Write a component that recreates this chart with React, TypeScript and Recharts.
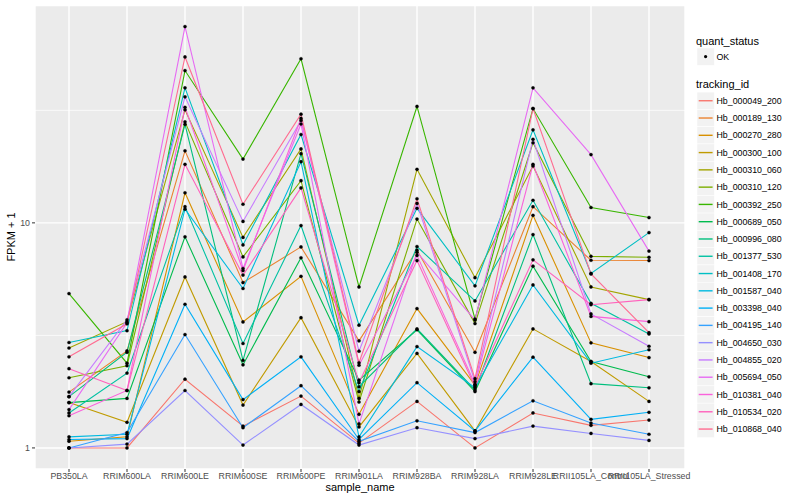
import React from 'react';
import { LineChart, Line, XAxis, YAxis, CartesianGrid } from 'recharts';

const FONT = '"Liberation Sans", Arial, Helvetica, sans-serif';

const categories = [
  'PB350LA', 'RRIM600LA', 'RRIM600LE', 'RRIM600SE', 'RRIM600PE', 'RRIM901LA',
  'RRIM928BA', 'RRIM928LA', 'RRIM928LE', 'RRII105LA_Control', 'RRII105LA_Stressed',
];

const trackingIds = [
  'Hb_000049_200', 'Hb_000189_130', 'Hb_000270_280', 'Hb_000300_100', 'Hb_000310_060',
  'Hb_000310_120', 'Hb_000392_250', 'Hb_000689_050', 'Hb_000996_080', 'Hb_001377_530',
  'Hb_001408_170', 'Hb_001587_040', 'Hb_003398_040', 'Hb_004195_140', 'Hb_004650_030',
  'Hb_004855_020', 'Hb_005694_050', 'Hb_010381_040', 'Hb_010534_020', 'Hb_010868_040',
];

const seriesColors = [
  '#F8766D', '#EA8331', '#D89000', '#C09B00', '#A3A500',
  '#7CAE00', '#39B600', '#00BB4E', '#00BF7D', '#00C1A3',
  '#00BFC4', '#00BAE0', '#00B0F6', '#35A2FF', '#9590FF',
  '#C77CFF', '#E76BF3', '#FA62DB', '#FF62BC', '#FF6C91',
];

// FPKM + 1 values per series, in category order
const hb000049_200 = [1.0, 1.0, 2.02, 1.25, 1.70, 1.05, 1.61, 1.0, 1.43, 1.26, 1.33];
const hb000189_130 = [1.77, 2.70, 20.9, 5.43, 7.82, 2.99, 7.56, 2.66, 11.8, 6.82, 6.8];
const hb000270_280 = [1.07, 1.12, 13.6, 3.63, 5.79, 1.41, 4.16, 1.9, 10.8, 2.93, 2.52];
const hb000300_100 = [1.59, 1.30, 5.75, 1.55, 3.79, 1.24, 2.63, 1.19, 3.38, 2.42, 1.61];
const hb000310_060 = [2.78, 3.64, 31.8, 8.62, 21.3, 1.66, 17.3, 5.71, 17.9, 5.19, 4.56];
const hb000310_120 = [2.05, 2.32, 28.1, 7.06, 15.4, 1.60, 10.4, 3.57, 22.7, 7.1, 7.03];
const hb000392_250 = [4.85, 2.38, 47.5, 19.2, 53.6, 5.19, 32.9, 3.74, 32.2, 11.7, 10.56];
const hb000689_050 = [1.59, 1.66, 8.67, 2.34, 7.0, 2.0, 3.35, 1.78, 6.42, 2.42, 2.07];
const hb000996_080 = [1.69, 2.66, 27.4, 2.45, 20.3, 1.87, 3.38, 1.81, 8.87, 1.93, 1.85];
const hb001377_530 = [1.43, 2.15, 11.8, 2.91, 9.73, 1.78, 7.85, 4.5, 12.6, 4.39, 3.21];
const hb001408_170 = [2.94, 3.32, 39.8, 7.98, 24.7, 3.51, 11.6, 5.25, 25.9, 5.96, 9.05];
const hb001587_040 = [1.12, 1.15, 11.5, 5.11, 18.7, 1.12, 2.82, 1.85, 5.3, 2.38, 2.73];
const hb003398_040 = [1.09, 1.10, 4.35, 1.64, 2.54, 1.09, 1.95, 1.19, 2.53, 1.34, 1.44];
const hb004195_140 = [1.0, 1.17, 3.19, 1.23, 1.89, 1.07, 1.32, 1.17, 1.62, 1.29, 1.15];
const hb004650_030 = [1.0, 1.04, 1.80, 1.03, 1.56, 1.03, 1.23, 1.10, 1.25, 1.16, 1.08];
const hb004855_020 = [1.69, 3.71, 36.3, 10.15, 28.5, 2.69, 12.2, 1.97, 23.5, 3.94, 2.83];
const hb005694_050 = [1.48, 3.6, 74.5, 6.27, 27.5, 1.28, 7.4, 3.7, 39.8, 20.1, 7.49];
const hb010381_040 = [1.39, 1.80, 32.6, 6.14, 29.1, 2.33, 7.17, 1.92, 18.2, 3.84, 3.64];
const hb010534_020 = [2.25, 1.80, 18.2, 5.86, 14.3, 1.95, 6.8, 1.87, 6.85, 4.33, 4.56];
const hb010868_040 = [2.54, 3.56, 54.6, 12.1, 30.4, 2.39, 12.8, 2.03, 32.2, 5.93, 3.25];

const seriesValues = [
  hb000049_200, hb000189_130, hb000270_280, hb000300_100, hb000310_060,
  hb000310_120, hb000392_250, hb000689_050, hb000996_080, hb001377_530,
  hb001408_170, hb001587_040, hb003398_040, hb004195_140, hb004650_030,
  hb004855_020, hb005694_050, hb010381_040, hb010534_020, hb010868_040,
];

const majorTicks = [1, 10];
const minorTicks = [Math.sqrt(10), Math.sqrt(1000)];

const data = categories.map((c, i) => {
  const row: Record<string, string | number> = { sample_name: c };
  trackingIds.forEach((id, k) => {
    row[id] = seriesValues[k][i];
  });
  return row;
});

// ggplot-like 5% expansion on the log scale
const allVals = seriesValues.flat();
const lmin = Math.log10(Math.min(...allVals));
const lmax = Math.log10(Math.max(...allVals));
const ex = (lmax - lmin) * 0.05;
const yDomain: [number, number] = [Math.pow(10, lmin - ex), Math.pow(10, lmax + ex)];

const axisTick = { fill: '#4D4D4D', fontSize: 8.8, fontFamily: FONT };

export default function App() {
  const rowH = 17.28;
  const legendTop = 92.1;
  return (
    <div style={{ position: 'absolute', left: 0, top: 0, width: 800, height: 500, background: '#fff', fontFamily: FONT }}>
      <LineChart width={800} height={500} data={data} margin={{ top: 5.5, right: 115, bottom: 0, left: 0 }}>
        <CartesianGrid fill="#EBEBEB" stroke="#FFFFFF" strokeWidth={1.4} />
        <CartesianGrid vertical={false} horizontalValues={minorTicks} fill="none" stroke="#FFFFFF" strokeWidth={0.7} />
        <XAxis
          dataKey="sample_name"
          type="category"
          scale="point"
          interval={0}
          padding={{ left: 34, right: 36 }}
          height={31}
          tickSize={3}
          tickMargin={1}
          axisLine={false}
          tickLine={{ stroke: '#333333' }}
          tick={axisTick}
        />
        <YAxis
          type="number"
          scale="log"
          domain={yDomain}
          allowDataOverflow
          ticks={majorTicks}
          width={35}
          tickSize={3}
          tickMargin={2}
          axisLine={false}
          tickLine={{ stroke: '#333333' }}
          tick={axisTick}
        />
        {trackingIds.map((id, k) => (
          <Line
            key={id}
            dataKey={id}
            type="linear"
            stroke={seriesColors[k]}
            strokeWidth={1.1}
            dot={{ r: 1.6, fill: '#000000', stroke: '#000000', strokeWidth: 0.3 }}
            activeDot={false}
            isAnimationActive={false}
          />
        ))}
      </LineChart>
      <svg width={800} height={500} style={{ position: 'absolute', left: 0, top: 0, pointerEvents: 'none' }} fontFamily={FONT}>
        <text x={15} y={237} transform="rotate(-90 15 237)" textAnchor="middle" fontSize={11} fill="#000">FPKM + 1</text>
        <text x={360} y={491} textAnchor="middle" fontSize={11} fill="#000">sample_name</text>
        <text x={696} y={44.5} fontSize={11} fill="#000">quant_status</text>
        <rect x={697} y={48} width={17.3} height={17.3} fill="#F2F2F2" stroke="#FFFFFF" strokeWidth={0.5} />
        <circle cx={705.6} cy={56.6} r={1.6} fill="#000" />
        <text x={716.5} y={59.8} fontSize={8.8} fill="#000">OK</text>
        <text x={696} y={88} fontSize={11} fill="#000">tracking_id</text>
        {trackingIds.map((id, k) => {
          const y0 = legendTop + k * rowH;
          const cy = y0 + rowH / 2;
          return (
            <g key={id}>
              <rect x={697} y={y0} width={17.3} height={rowH} fill="#F2F2F2" stroke="#FFFFFF" strokeWidth={0.5} />
              <line x1={698.7} x2={712.6} y1={cy} y2={cy} stroke={seriesColors[k]} strokeWidth={1.4} />
              <text x={716.5} y={cy + 3.1} fontSize={8.8} fill="#000">{id}</text>
            </g>
          );
        })}
      </svg>
    </div>
  );
}
